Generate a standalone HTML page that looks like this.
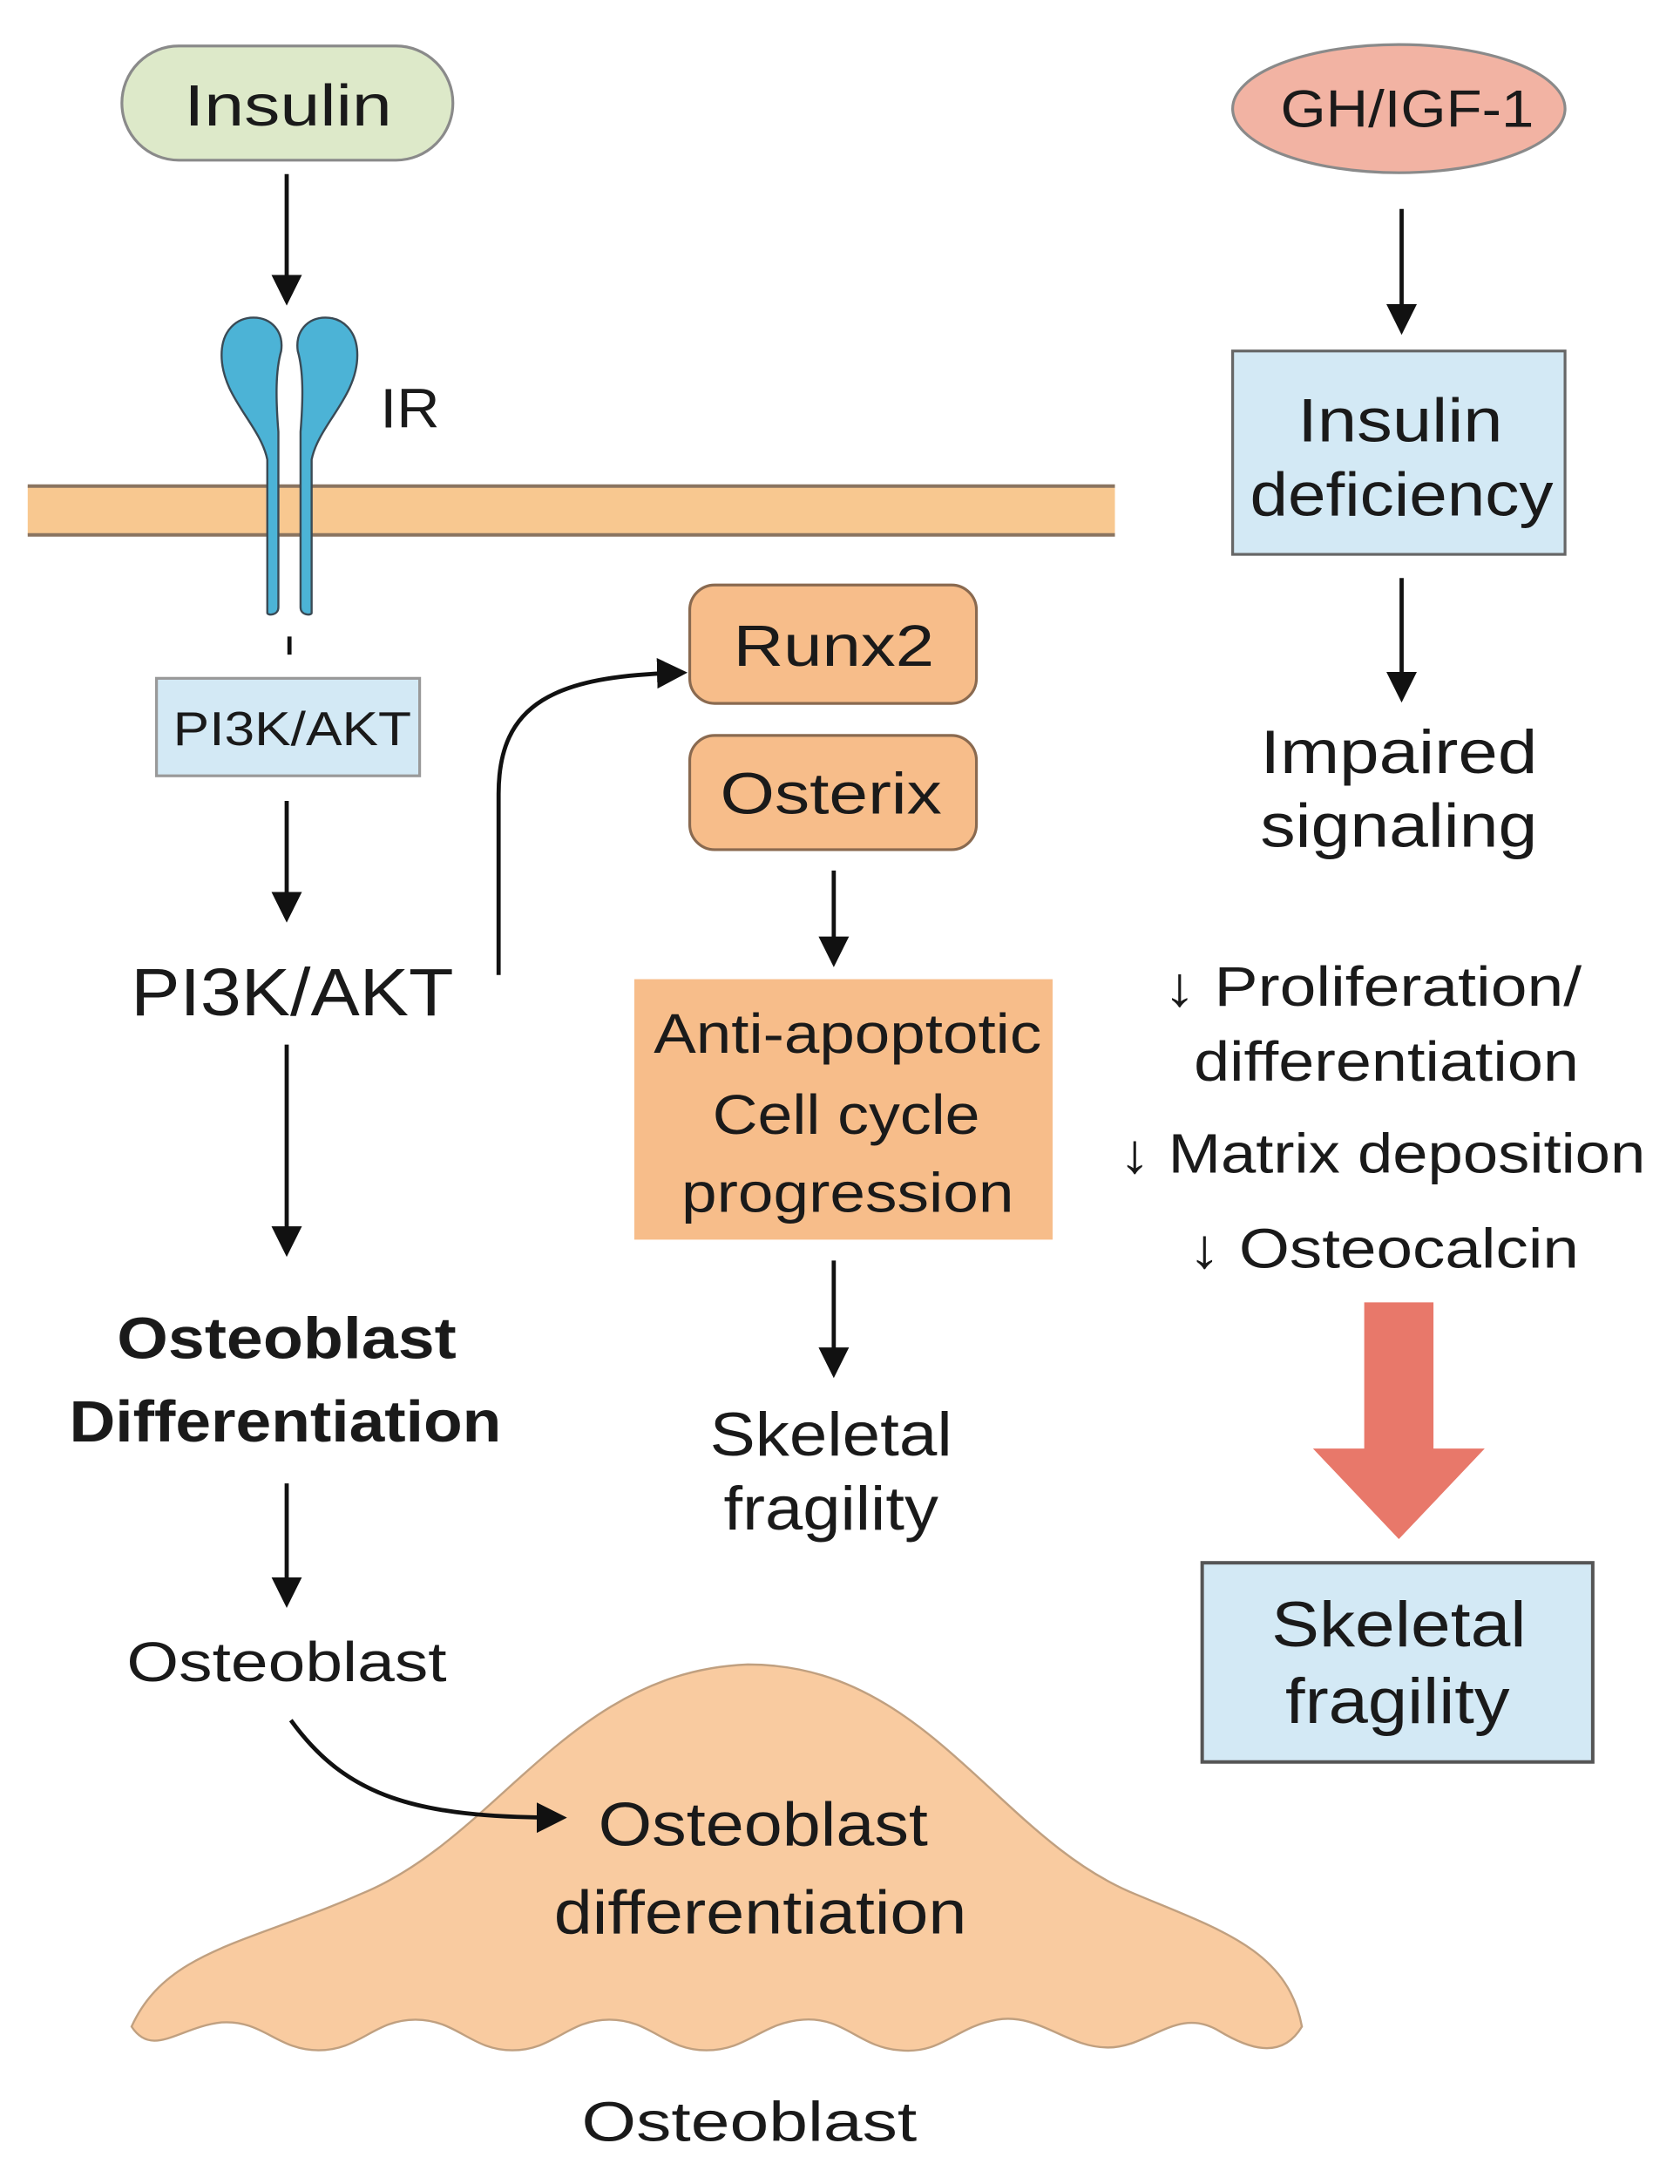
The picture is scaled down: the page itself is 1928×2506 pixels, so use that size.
<!DOCTYPE html>
<html><head><meta charset="utf-8"><style>
html,body{margin:0;padding:0;background:#fff}
svg{display:block}
text{font-family:"Liberation Sans",sans-serif;fill:#1a1a1a;text-anchor:middle}
</style></head><body>
<svg width="1928" height="2506" viewBox="0 0 1213 1568" preserveAspectRatio="none" xmlns="http://www.w3.org/2000/svg">
<defs>
<marker id="ah2" viewBox="0 0 10 10" markerWidth="22" markerHeight="22" refX="8" refY="5" orient="auto" markerUnits="userSpaceOnUse">
<path d="M0,0 L10,5 L0,10 Z" fill="#111"/>
</marker>
</defs>
<g stroke="#111" stroke-width="3" fill="none">
<line x1="207" y1="125" x2="207" y2="215" marker-end="url(#ah2)"/>
<line x1="207" y1="575" x2="207" y2="658" marker-end="url(#ah2)"/>
<line x1="207" y1="750" x2="207" y2="898" marker-end="url(#ah2)"/>
<line x1="207" y1="1065" x2="207" y2="1150" marker-end="url(#ah2)"/>
<line x1="602" y1="625" x2="602" y2="690" marker-end="url(#ah2)"/>
<line x1="602" y1="905" x2="602" y2="985" marker-end="url(#ah2)"/>
<line x1="1012" y1="150" x2="1012" y2="236" marker-end="url(#ah2)"/>
<line x1="1012" y1="415" x2="1012" y2="500" marker-end="url(#ah2)"/>
</g>
<rect x="88" y="33" width="239" height="82" rx="41" fill="#dde9c9" stroke="#8a8a8a" stroke-width="2"/>
<text x="208" y="90" font-size="42" textLength="150" lengthAdjust="spacingAndGlyphs">Insulin</text>
<rect x="20" y="349" width="785" height="35" fill="#f8c890"/>
<line x1="20" y1="349" x2="805" y2="349" stroke="#8a7460" stroke-width="2.5"/>
<line x1="20" y1="384" x2="805" y2="384" stroke="#8a7460" stroke-width="2.5"/>
<g fill="#4cb3d6" stroke="#3a4a55" stroke-width="1.5">
<path d="M193,440 L193,330 C188,305 160,285 160,255 C160,237 171,228 183,228 C196,228 205,238 203,252 C199,266 199,285 201,310 L201,436 C201,442 193,442 193,440 Z"/>
<path d="M225,440 L225,330 C230,305 258,285 258,255 C258,237 247,228 235,228 C222,228 213,238 215,252 C219,266 219,285 217,310 L217,436 C217,442 225,442 225,440 Z"/>
</g>
<text x="296" y="307" font-size="40" textLength="43" lengthAdjust="spacingAndGlyphs">IR</text>
<line x1="209" y1="457" x2="209" y2="470" stroke="#111" stroke-width="3"/>
<rect x="113" y="487" width="190" height="70" fill="#d3e9f5" stroke="#999" stroke-width="2"/>
<text x="211" y="535" font-size="34" fill="#333" textLength="172" lengthAdjust="spacingAndGlyphs">PI3K/AKT</text>
<text x="211" y="729" font-size="48" textLength="233" lengthAdjust="spacingAndGlyphs">PI3K/AKT</text>
<text x="207" y="975" font-size="42" font-weight="bold" textLength="245" lengthAdjust="spacingAndGlyphs">Osteoblast</text>
<text x="206" y="1035" font-size="42" font-weight="bold" textLength="312" lengthAdjust="spacingAndGlyphs">Differentiation</text>
<text x="207" y="1207" font-size="40" textLength="231" lengthAdjust="spacingAndGlyphs">Osteoblast</text>
<path d="M95,1455 C120,1400 180,1395 260,1360 C360,1320 410,1200 540,1195 C670,1195 720,1320 820,1360 C880,1385 930,1400 940,1455 C925,1480 900,1470 880,1458 C850,1440 830,1470 800,1470 C770,1470 750,1445 720,1450 C690,1455 680,1475 650,1472 C620,1470 610,1448 580,1450 C550,1452 540,1472 510,1472 C480,1472 470,1450 440,1450 C410,1450 400,1472 370,1472 C340,1472 330,1450 300,1450 C270,1450 260,1472 230,1472 C200,1472 190,1450 160,1452 C130,1455 110,1478 95,1455 Z" fill="#f9cba0" stroke="#c0a080" stroke-width="1.5"/>
<path d="M210,1235 C250,1290 300,1305 405,1305" stroke="#111" stroke-width="3" fill="none" marker-end="url(#ah2)"/>
<text x="551" y="1325" font-size="44" textLength="238" lengthAdjust="spacingAndGlyphs">Osteoblast</text>
<text x="549" y="1388" font-size="44" textLength="298" lengthAdjust="spacingAndGlyphs">differentiation</text>
<text x="541" y="1537" font-size="40" textLength="242" lengthAdjust="spacingAndGlyphs">Osteoblast</text>
<path d="M360,700 L360,570 C360,505 400,485 492,483" stroke="#111" stroke-width="3" fill="none" marker-end="url(#ah2)"/>
<rect x="498" y="420" width="207" height="85" rx="18" fill="#f7bd8a" stroke="#8a6a50" stroke-width="2"/>
<text x="602" y="478" font-size="42" textLength="145" lengthAdjust="spacingAndGlyphs">Runx2</text>
<rect x="498" y="528" width="207" height="82" rx="18" fill="#f7bd8a" stroke="#8a6a50" stroke-width="2"/>
<text x="600" y="584" font-size="42" textLength="160" lengthAdjust="spacingAndGlyphs">Osterix</text>
<rect x="458" y="703" width="302" height="187" fill="#f7bd8a"/>
<text x="612" y="756" font-size="40" textLength="280" lengthAdjust="spacingAndGlyphs">Anti-apoptotic</text>
<text x="611" y="814" font-size="40" textLength="193" lengthAdjust="spacingAndGlyphs">Cell cycle</text>
<text x="612" y="870" font-size="40" textLength="240" lengthAdjust="spacingAndGlyphs">progression</text>
<text x="600" y="1045" font-size="44" textLength="175" lengthAdjust="spacingAndGlyphs">Skeletal</text>
<text x="600" y="1098" font-size="44" textLength="155" lengthAdjust="spacingAndGlyphs">fragility</text>
<ellipse cx="1010" cy="78" rx="120" ry="46" fill="#f2b3a3" stroke="#8a8a8a" stroke-width="2"/>
<text x="1016" y="91" font-size="38" fill="#333" textLength="183" lengthAdjust="spacingAndGlyphs">GH/IGF-1</text>
<rect x="890" y="252" width="240" height="146" fill="#d3e9f5" stroke="#666" stroke-width="2"/>
<text x="1011" y="317" font-size="44" textLength="148" lengthAdjust="spacingAndGlyphs">Insulin</text>
<text x="1012" y="370" font-size="44" textLength="219" lengthAdjust="spacingAndGlyphs">deficiency</text>
<text x="1010" y="555" font-size="44" textLength="200" lengthAdjust="spacingAndGlyphs">Impaired</text>
<text x="1010" y="608" font-size="44" textLength="200" lengthAdjust="spacingAndGlyphs">signaling</text>
<text x="991" y="722" font-size="40" textLength="302" lengthAdjust="spacingAndGlyphs">↓ Proliferation/</text>
<text x="1001" y="776" font-size="40" textLength="278" lengthAdjust="spacingAndGlyphs">differentiation</text>
<text x="998" y="842" font-size="40" textLength="380" lengthAdjust="spacingAndGlyphs">↓ Matrix deposition</text>
<text x="999" y="910" font-size="40" textLength="282" lengthAdjust="spacingAndGlyphs">↓ Osteocalcin</text>
<path d="M985,935 L1035,935 L1035,1040 L1072,1040 L1010,1105 L948,1040 L985,1040 Z" fill="#e8786a"/>
<rect x="868" y="1122" width="282" height="143" fill="#d3e9f5" stroke="#555" stroke-width="2.5"/>
<text x="1010" y="1182" font-size="46" textLength="184" lengthAdjust="spacingAndGlyphs">Skeletal</text>
<text x="1009" y="1237" font-size="46" textLength="162" lengthAdjust="spacingAndGlyphs">fragility</text>
</svg>
</body></html>
